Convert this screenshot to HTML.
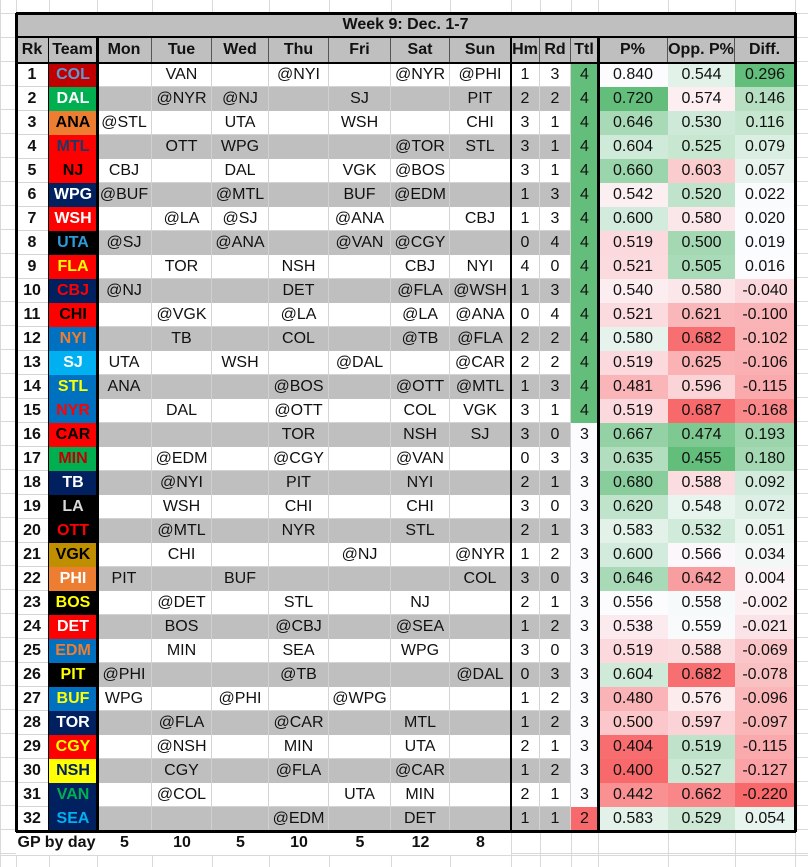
<!DOCTYPE html>
<html><head><meta charset="utf-8">
<style>
html,body{margin:0;padding:0;background:#fff;}
body{width:808px;height:867px;position:relative;overflow:hidden;font-family:"Liberation Sans",Arial,sans-serif;font-size:16px;color:#111;}
.c{position:absolute;box-sizing:border-box;display:flex;align-items:center;justify-content:center;white-space:nowrap;border-right:1px solid #d4d4d4;border-bottom:1px solid #d4d4d4;}
.b{font-weight:bold;}
.ln{position:absolute;background:#000;}
.g{position:absolute;background:#d9d9d9;}
</style></head><body>
<div id="root"></div>
<script>
var X=[16,49,97,152,212,269,329,391,450,511,540,571,598,668,735,795];
var T0=13,RH=24;
var root=document.getElementById('root');
function cell(x0,x1,y0,y1,txt,bg,fg,bold,extra){
 var d=document.createElement('div');d.className='c'+(bold?' b':'');
 d.style.left=x0+'px';d.style.top=y0+'px';d.style.width=(x1-x0)+'px';d.style.height=(y1-y0)+'px';
 if(bg)d.style.background=bg; if(fg)d.style.color=fg; if(extra)d.style.cssText+=extra;
 d.textContent=txt;root.appendChild(d);return d;}
function line(x,y,w,h,cls){var d=document.createElement('div');d.className=cls||'ln';d.style.left=x+'px';d.style.top=y+'px';d.style.width=w+'px';d.style.height=h+'px';root.appendChild(d);}
var gx=[0,16,49,97,152,212,269,329,391,450,511,540,571,598,668,735,795];
gx.forEach(function(x){line(x,0,1,867,'g');});
for(var y=13;y<867;y+=24)line(0,y,808,1,'g');
line(0,855,808,1,'g');
var data=[
["COL","","VAN","","@NYI","","@NYR","@PHI",1,3,4,.840,.544,.296],
["DAL","","@NYR","@NJ","","SJ","","PIT",2,2,4,.720,.574,.146],
["ANA","@STL","","UTA","","WSH","","CHI",3,1,4,.646,.530,.116],
["MTL","","OTT","WPG","","","@TOR","STL",3,1,4,.604,.525,.079],
["NJ","CBJ","","DAL","","VGK","@BOS","",3,1,4,.660,.603,.057],
["WPG","@BUF","","@MTL","","BUF","@EDM","",1,3,4,.542,.520,.022],
["WSH","","@LA","@SJ","","@ANA","","CBJ",1,3,4,.600,.580,.020],
["UTA","@SJ","","@ANA","","@VAN","@CGY","",0,4,4,.519,.500,.019],
["FLA","","TOR","","NSH","","CBJ","NYI",4,0,4,.521,.505,.016],
["CBJ","@NJ","","","DET","","@FLA","@WSH",1,3,4,.540,.580,-.040],
["CHI","","@VGK","","@LA","","@LA","@ANA",0,4,4,.521,.621,-.100],
["NYI","","TB","","COL","","@TB","@FLA",2,2,4,.580,.682,-.102],
["SJ","UTA","","WSH","","@DAL","","@CAR",2,2,4,.519,.625,-.106],
["STL","ANA","","","@BOS","","@OTT","@MTL",1,3,4,.481,.596,-.115],
["NYR","","DAL","","@OTT","","COL","VGK",3,1,4,.519,.687,-.168],
["CAR","","","","TOR","","NSH","SJ",3,0,3,.667,.474,.193],
["MIN","","@EDM","","@CGY","","@VAN","",0,3,3,.635,.455,.180],
["TB","","@NYI","","PIT","","NYI","",2,1,3,.680,.588,.092],
["LA","","WSH","","CHI","","CHI","",3,0,3,.620,.548,.072],
["OTT","","@MTL","","NYR","","STL","",2,1,3,.583,.532,.051],
["VGK","","CHI","","","@NJ","","@NYR",1,2,3,.600,.566,.034],
["PHI","PIT","","BUF","","","","COL",3,0,3,.646,.642,.004],
["BOS","","@DET","","STL","","NJ","",2,1,3,.556,.558,-.002],
["DET","","BOS","","@CBJ","","@SEA","",1,2,3,.538,.559,-.021],
["EDM","","MIN","","SEA","","WPG","",3,0,3,.519,.588,-.069],
["PIT","@PHI","","","@TB","","","@DAL",0,3,3,.604,.682,-.078],
["BUF","WPG","","@PHI","","@WPG","","",1,2,3,.480,.576,-.096],
["TOR","","@FLA","","@CAR","","MTL","",1,2,3,.500,.597,-.097],
["CGY","","@NSH","","MIN","","UTA","",2,1,3,.404,.519,-.115],
["NSH","","CGY","","@FLA","","@CAR","",1,2,3,.400,.527,-.127],
["VAN","","@COL","","","UTA","MIN","",2,1,3,.442,.662,-.220],
["SEA","","","","@EDM","","DET","",1,1,2,.583,.529,.054]];
var tc={COL:["#c00000","#5b9bd5"],DAL:["#00b050","#fff"],ANA:["#ed7d31","#000"],MTL:["#ff0000","#203864"],NJ:["#ff0000","#000"],WPG:["#002060","#fff"],WSH:["#ff0000","#fff"],UTA:["#000","#2e9bd6"],FLA:["#ff0000","#ffff00"],CBJ:["#002060","#ff0000"],CHI:["#ff0000","#000"],NYI:["#0070c0","#ed7d31"],SJ:["#00b0f0","#fff"],STL:["#0070c0","#ffff00"],NYR:["#0070c0","#ff0000"],CAR:["#ff0000","#000"],MIN:["#00b050","#c00000"],TB:["#002060","#fff"],LA:["#000","#d9d9d9"],OTT:["#000","#ff0000"],VGK:["#bf8f00","#000"],PHI:["#ed7d31","#fff"],BOS:["#000","#ffff00"],DET:["#ff0000","#fff"],EDM:["#0070c0","#ed7d31"],PIT:["#000","#ffff00"],BUF:["#0070c0","#ffff00"],TOR:["#002060","#fff"],CGY:["#ff0000","#ffff00"],NSH:["#ffff00","#002060"],VAN:["#002060","#00b050"],SEA:["#002060","#00b0f0"]};
var G=[99,190,123],W=[252,252,255],R=[248,105,107];
function mix(a,b,t){t=Math.max(0,Math.min(1,t));return 'rgb('+a.map(function(v,i){return Math.round(v+(b[i]-v)*t)}).join(',')+')';}
function scale(v,lo,mid,hi,inv){
 if(!inv){ if(v>=mid) return mix(W,G,(v-mid)/(hi-mid)); return mix(W,R,(mid-v)/(mid-lo)); }
 else { if(v<=mid) return mix(W,G,(mid-v)/(mid-lo)); return mix(W,R,(v-mid)/(hi-mid)); }
}
var GRAY='#bfbfbf';
cell(16,795,T0,T0+24,"Week 9: Dec. 1-7",GRAY,null,true,"border:none;");
var hy=T0+24;
var hd=["Rk","Team","Mon","Tue","Wed","Thu","Fri","Sat","Sun","Hm","Rd","Ttl","P%","Opp. P%","Diff."];
hd.forEach(function(h,i){cell(X[i],X[i+1],hy,hy+26,h,GRAY,null,true,"border-right:1px solid #555;");});
var y0=hy+26;
data.forEach(function(r,k){
 var y=y0+k*RH, even=(k%2==1);
 cell(X[0],X[1],y,y+RH,String(k+1),"#fff",null,true);
 var t=tc[r[0]];cell(X[1],X[2],y,y+RH,r[0],t[0],t[1],true,"border:none;");
 for(var j=1;j<=7;j++)cell(X[j+1],X[j+2],y,y+RH,r[j],even?GRAY:"#fff",null,false,even?"border-right:1px solid #d0d0d0;border-bottom:none;":"");
 cell(X[9],X[10],y,y+RH,String(r[8]),even?GRAY:"#fff",null,false,even?"border-bottom:none;":"");
 cell(X[10],X[11],y,y+RH,String(r[9]),even?GRAY:"#fff",null,false,even?"border-bottom:none;":"");
 var tb=r[10]==4?"#63be7b":(r[10]==2?"#f8696b":"#fcfcff");
 cell(X[11],X[12],y,y+RH,String(r[10]),tb,null,false,"border:none;");
 var p=k==0?"#fcfcff":scale(r[11],0.40,0.556,0.72,false);
 cell(X[12],X[13],y,y+RH,r[11].toFixed(3),p,null,false,"border:none;");
 cell(X[13],X[14],y,y+RH,r[12].toFixed(3),scale(r[12],0.455,0.562,0.687,true),null,false,"border:none;");
 cell(X[14],X[15],y,y+RH,r[13].toFixed(3),scale(r[13],-0.22,0.018,0.296,false),null,false,"border:none;");
});
var yb=y0+32*RH;
cell(16,97,yb,yb+24,"GP by day",null,null,true,"border:none;background:#fff;");
[5,10,5,10,5,12,8].forEach(function(v,i){cell(X[i+2],X[i+3],yb,yb+24,String(v),"#fff",null,true,"border:none;");});
line(16,T0-1,780,3);line(16,yb-1,780,3);
line(15,T0,3,yb-T0+1);line(794,T0,3,yb-T0+1);
line(16,hy-1,780,2);line(16,y0-1,780,2);
line(96,hy,3,yb-hy);line(510,hy,2,yb-hy);line(597,hy,3,yb-hy);
line(48,hy,1,yb-hy);
</script>
</body></html>
